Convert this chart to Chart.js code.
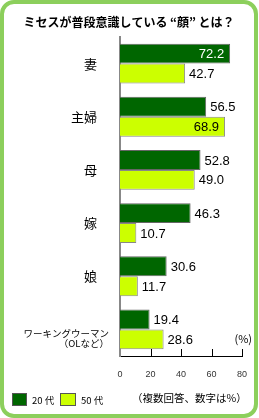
<!DOCTYPE html>
<html>
<head>
<meta charset="utf-8">
<script src="https://cdn.jsdelivr.net/npm/chart.js@4"></script>
<style>
  html, body { margin: 0; padding: 0; background: #fff; }
  #wrap { position: relative; width: 259px; height: 418px; }
</style>
</head>
<body>
<div id="wrap"><canvas id="faceChart" width="259" height="418"></canvas></div>
<script>
// data
var categories = ['妻', '主婦', '母', '嫁', '娘', 'ワーキングウーマン'];
var age20 = [72.2, 56.5, 52.8, 46.3, 30.6, 19.4];
var age50 = [42.7, 68.9, 49.0, 10.7, 11.7, 28.6];
var xTicks = [0, 20, 40, 60, 80];

var JP = '"Liberation Sans", "Noto Sans CJK JP", sans-serif';
var DARK = '#006600';
var LIGHT = '#ccff00';

// frame, title, legend, notes
var decorPlugin = {
    id: 'decor',
    beforeDraw: function(chart) {
        var c = chart.ctx;
        c.save();
        c.fillStyle = '#fff';
        c.fillRect(0, 0, 259, 418);
        c.strokeStyle = '#8ccf5c';
        c.lineWidth = 4;
        c.beginPath();
        c.roundRect(2, 2, 254, 414, 12);
        c.stroke();
        c.restore();
    },
    afterDraw: function(chart) {
        var c = chart.ctx;
        var xs = chart.scales.x, ys = chart.scales.y;
        c.save();
        // title
        c.fillStyle = '#000';
        c.font = 'bold 12px "Noto Sans CJK JP", sans-serif';
        c.textAlign = 'center';
        c.textBaseline = 'middle';
        c.fillText('ミセスが普段意識している “顔” とは？', 129, 22);

        // upward tick marks
        c.strokeStyle = '#000';
        c.lineWidth = 1;
        xTicks.slice(1).forEach(function(v) {
            var px = Math.round(xs.getPixelForValue(v)) + 0.5;
            c.beginPath();
            c.moveTo(px, xs.top - 7);
            c.lineTo(px, xs.top);
            c.stroke();
        });

        // category labels
        c.textAlign = 'right';
        categories.forEach(function(name, i) {
            var py = ys.getPixelForValue(i);
            if (i === categories.length - 1) {
                c.font = '9.5px "Noto Sans CJK JP", sans-serif';
                c.fillText(name, 109, py + 4);
                c.fillText('（OLなど）', 109, py + 14);
            } else {
                c.font = '13px "Noto Sans CJK JP", sans-serif';
                c.fillText(name, 97, py);
            }
        });

        // unit
        c.font = '11px "Noto Sans CJK JP", sans-serif';
        c.textAlign = 'right';
        c.fillText('(%)', 252, 339);

        // value labels
        c.font = '13px ' + JP;
        [age20, age50].forEach(function(vals, d) {
            chart.getDatasetMeta(d).data.forEach(function(bar, i) {
                var v = vals[i].toFixed(1);
                var inside = (d === 0 && i === 0) || (d === 1 && i === 1);
                if (inside) {
                    c.textAlign = 'right';
                    c.fillStyle = d === 0 ? '#fff' : '#000';
                    c.fillText(v, bar.x - 6, bar.y + 1);
                } else {
                    c.textAlign = 'left';
                    c.fillStyle = '#000';
                    c.fillText(v, bar.x + 4, bar.y + 1);
                }
            });
        });

        // legend
        c.lineWidth = 1;
        c.strokeStyle = '#555';
        c.fillStyle = DARK;
        c.fillRect(12, 393, 15, 13);
        c.strokeRect(12.5, 393.5, 14, 12);
        c.fillStyle = LIGHT;
        c.fillRect(60, 393, 16, 13);
        c.strokeRect(60.5, 393.5, 15, 12);
        c.fillStyle = '#000';
        c.textAlign = 'left';
        c.font = '9.5px "Noto Sans CJK JP", sans-serif';
        c.fillText('20 代', 32, 400);
        c.fillText('50 代', 81, 400);
        c.font = '10.5px "Noto Sans CJK JP", sans-serif';
        c.fillText('（複数回答、数字は%）', 132, 398);
        c.restore();
    }
};

new Chart(document.getElementById('faceChart').getContext('2d'), {
    type: 'bar',
    data: {
        labels: categories,
        datasets: [
            { label: '20 代', data: age20, backgroundColor: DARK, borderColor: '#666', borderWidth: 1 },
            { label: '50 代', data: age50, backgroundColor: LIGHT, borderColor: '#888', borderWidth: 1 }
        ]
    },
    options: {
        indexAxis: 'y',
        responsive: false,
        animation: false,
        devicePixelRatio: 1,
        layout: { padding: { top: 37, right: 17, bottom: 0, left: 0 } },
        categoryPercentage: 0.75,
        barPercentage: 1.0,
        scales: {
            x: {
                min: 0,
                max: 80,
                afterBuildTicks: function(scale) {
                    scale.ticks = xTicks.map(function(v) { return { value: v }; });
                },
                afterFit: function(scale) { scale.height = 62; },
                grid: { display: false },
                border: { display: true, color: '#000', width: 1 },
                ticks: { padding: 5, color: '#333', font: { size: 9, family: JP } }
            },
            y: {
                afterFit: function(scale) { scale.width = 120; },
                grid: { display: false },
                border: { display: true, color: '#888', width: 2 },
                ticks: { display: false }
            }
        },
        plugins: {
            legend: { display: false },
            tooltip: { enabled: false }
        }
    },
    plugins: [decorPlugin]
});
</script>
</body>
</html>
